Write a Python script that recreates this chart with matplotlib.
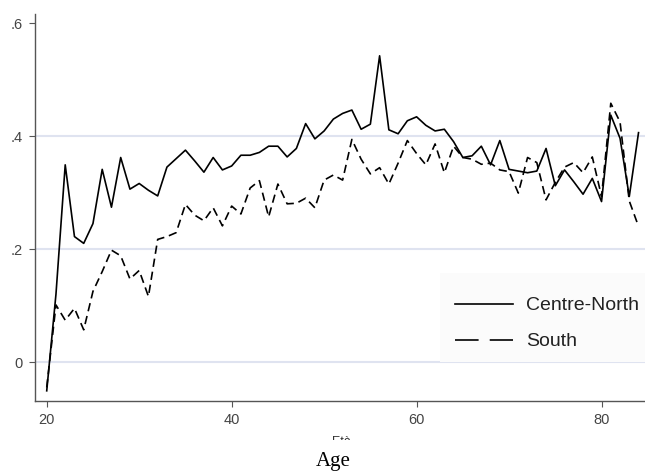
import matplotlib
matplotlib.use("Agg")
import matplotlib.pyplot as plt
from matplotlib.lines import Line2D
from matplotlib.patches import Rectangle
from matplotlib.transforms import Bbox, TransformedBbox

plt.rcParams['lines.scale_dashes'] = False

ages = list(range(20, 85))
centre_north = [-0.051, 0.12, 0.349, 0.222, 0.210, 0.245, 0.341, 0.274, 0.362, 0.306,
                0.316, 0.304, 0.294, 0.345, 0.360, 0.375, 0.356, 0.336, 0.362, 0.340,
                0.347, 0.366, 0.366, 0.371, 0.382, 0.382, 0.363, 0.378, 0.422, 0.395,
                0.409, 0.430, 0.440, 0.446, 0.412, 0.421, 0.542, 0.411, 0.404, 0.427,
                0.434, 0.419, 0.409, 0.412, 0.390, 0.362, 0.365, 0.382, 0.349, 0.392,
                0.341, 0.338, 0.335, 0.338, 0.378, 0.312, 0.340, 0.319, 0.297, 0.325,
                0.284, 0.437, 0.396, 0.293, 0.406]
south = [-0.045, 0.101, 0.074, 0.095, 0.057, 0.125, 0.160, 0.198, 0.188, 0.147,
         0.162, 0.116, 0.217, 0.222, 0.229, 0.279, 0.260, 0.250, 0.273, 0.241,
         0.276, 0.262, 0.308, 0.321, 0.257, 0.315, 0.280, 0.281, 0.290, 0.273,
         0.322, 0.331, 0.322, 0.394, 0.359, 0.333, 0.344, 0.315, 0.352, 0.392,
         0.369, 0.349, 0.386, 0.335, 0.382, 0.362, 0.359, 0.350, 0.352, 0.340,
         0.337, 0.299, 0.362, 0.353, 0.287, 0.318, 0.345, 0.353, 0.335, 0.363,
         0.293, 0.458, 0.425, 0.285, 0.240]

series_labels = ["Centre-North", "South"]
yticks = [0, 0.2, 0.4, 0.6]
ytick_labels = ["0", ".2", ".4", ".6"]
xticks = [20, 40, 60, 80]
grid_levels = [0, 0.2, 0.4]

W, H = 645, 472
fig = plt.figure(figsize=(W / 100, H / 100), dpi=100)
fig.patch.set_facecolor("white")
ax = fig.add_axes([34.7 / W, 1 - 400.7 / H, 1 - 34.7 / W, (400.7 - 14) / H])
ax.set_facecolor("white")

for g in grid_levels:
    ax.axhline(g, color="#dfe3f0", lw=1.5, zorder=1)

ax.plot(ages, centre_north, color="black", lw=1.2, zorder=3)
ax.plot(ages, south, color="black", lw=1.2, dashes=(6, 3.5), zorder=3)

ax.set_xlim(18.7, 84.7)
ax.set_ylim(-0.0685, 0.616)
ax.set_xticks(xticks)
ax.set_xticklabels([str(x) for x in xticks])
ax.set_yticks(yticks)
ax.set_yticklabels(ytick_labels)
for s in ["top", "right"]:
    ax.spines[s].set_visible(False)
for s in ["left", "bottom"]:
    ax.spines[s].set_color("#555555")
    ax.spines[s].set_linewidth(1.0)
ax.tick_params(direction="out", length=4, width=0.8, color="#555555",
               labelcolor="#444444", pad=4.5)
for lab in ax.get_xticklabels() + ax.get_yticklabels():
    lab.set_fontfamily("Liberation Sans")
    lab.set_fontsize(10.5)

# legend background box
rect = Rectangle((440 / W, 1 - 362 / H), (W - 440) / W, (362 - 273) / H,
                 transform=fig.transFigure, facecolor="#fbfbfb", edgecolor="none",
                 zorder=2)
ax.add_patch(rect)
rect.set_transform(fig.transFigure)

handles = [Line2D([], [], color="black", lw=1.2),
           Line2D([], [], color="black", lw=1.2, dashes=(17, 8))]
leg = ax.legend(handles, series_labels, loc="upper left",
                bbox_to_anchor=(445 / W, 1 - 287 / H), bbox_transform=fig.transFigure,
                frameon=False, handlelength=3.0, handletextpad=0.65,
                labelspacing=0.95, borderpad=0,
                prop={"family": "Liberation Sans", "size": 14})
for t in leg.get_texts():
    t.set_color("#222222")
leg.set_zorder(4)

# clipped "Età" label
eta = fig.text(341 / W, 1 - 445 / H, "Età", ha="center", va="baseline",
               fontsize=9, family="Liberation Sans", color="#333333")
eta.set_clip_box(TransformedBbox(Bbox([[0, 1 - 440 / H], [1, 1]]), fig.transFigure))
eta.set_clip_on(True)

fig.text(333 / W, 1 - 465.7 / H, "Age", ha="center", va="baseline",
         fontsize=15, family="Liberation Serif", color="black")

fig.savefig("out.png", dpi=100)
